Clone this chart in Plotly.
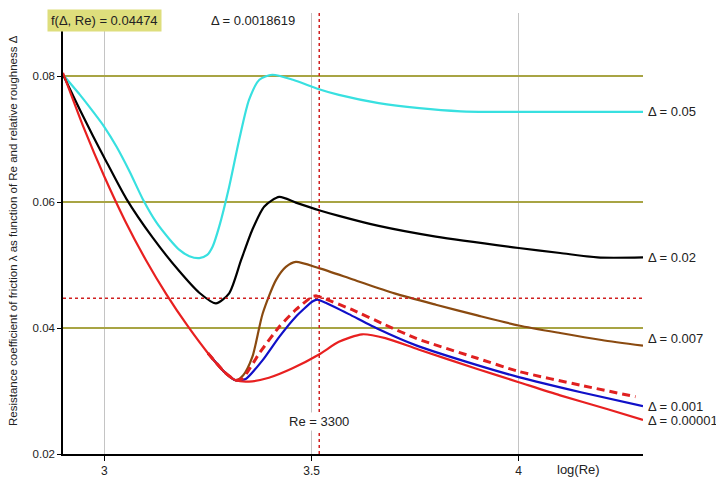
import math
import plotly.graph_objects as go

# ---- data (x = log10(Re), y = friction coefficient lambda) ----
laminar_x = [2.90, 2.95, 3.00, 3.05, 3.10, 3.15, 3.20, 3.25, 3.29, 3.317]
laminar_y = [0.0805, 0.0718, 0.0640, 0.0570, 0.0508, 0.0453, 0.0404, 0.0360, 0.0330, 0.0317]

cyan_x = [2.90, 2.941, 2.973, 3.00, 3.029, 3.061, 3.093, 3.125, 3.157, 3.181, 3.205, 3.229, 3.248, 3.261, 3.277, 3.301, 3.325, 3.349, 3.374, 3.405, 3.455, 3.518, 3.566, 3.662, 3.76, 3.86, 3.95, 4.10, 4.30]
cyan_y = [0.0802, 0.0770, 0.0743, 0.0719, 0.0688, 0.0648, 0.0604, 0.0568, 0.0541, 0.0524, 0.0514, 0.0511, 0.0516, 0.0529, 0.0561, 0.0624, 0.0698, 0.0762, 0.0794, 0.0802, 0.0794, 0.0779, 0.0770, 0.0757, 0.0749, 0.0744, 0.0743, 0.0743, 0.0743]

black_x = [2.90, 2.941, 2.973, 3.00, 3.053, 3.117, 3.181, 3.229, 3.269, 3.301, 3.330, 3.357, 3.386, 3.422, 3.462, 3.518, 3.566, 3.662, 3.80, 4.00, 4.10, 4.19, 4.30]
black_y = [0.0802, 0.0746, 0.0704, 0.0670, 0.0605, 0.0543, 0.0490, 0.0456, 0.0439, 0.0455, 0.0508, 0.0556, 0.0593, 0.0608, 0.0599, 0.0587, 0.0578, 0.0562, 0.0545, 0.0527, 0.0519, 0.0512, 0.0512]

brown_x = [3.335, 3.357, 3.382, 3.414, 3.438, 3.462, 3.518, 3.60, 3.70, 3.80, 3.90, 4.00, 4.10, 4.20, 4.30]
brown_y = [0.0325, 0.0354, 0.0423, 0.0476, 0.0497, 0.0505, 0.0495, 0.0477, 0.0455, 0.0437, 0.0420, 0.0404, 0.0392, 0.0381, 0.0372]

dashed_x = [3.334, 3.374, 3.422, 3.462, 3.502, 3.512, 3.534, 3.598, 3.678, 3.754, 3.90, 4.00, 4.15, 4.282]
dashed_y = [0.0320, 0.0360, 0.0402, 0.0429, 0.0450, 0.0451, 0.0446, 0.0429, 0.0405, 0.0383, 0.0352, 0.0331, 0.0309, 0.0291]

blue_x = [3.341, 3.382, 3.422, 3.462, 3.502, 3.514, 3.534, 3.59, 3.662, 3.754, 3.90, 4.00, 4.15, 4.30]
blue_y = [0.0319, 0.0349, 0.0386, 0.0418, 0.0442, 0.0445, 0.0440, 0.0422, 0.0398, 0.0372, 0.0341, 0.0322, 0.0298, 0.0276]

red_x = [3.349, 3.397, 3.454, 3.518, 3.566, 3.622, 3.678, 3.758, 3.90, 4.00, 4.10, 4.215, 4.30]
red_y = [0.0315, 0.0321, 0.0336, 0.0358, 0.0378, 0.0390, 0.0384, 0.0366, 0.0335, 0.0314, 0.0293, 0.0271, 0.0254]

deltas = ["0.05", "0.02", "0.007", "0.001", "0.00001"]
current_delta = "0.0018619"
f_value = 0.04474
re_value = 3300

x_ticks = [3, 3.5, 4]
x_tick_text = ["3", "3.5", "4"]
y_ticks = [0.02, 0.04, 0.06, 0.08]
y_tick_text = ["0.02", "0.04", "0.06", "0.08"]

FONT = "Liberation Sans, Arial, sans-serif"
TXT = "#222222"

fig = go.Figure()

def add_line(xs, ys, color, dash="solid", width=2.2, smooth=0.7):
    fig.add_trace(go.Scatter(x=xs, y=ys, mode="lines",
                             line=dict(color=color, width=width, dash=dash, shape="spline", smoothing=smooth),
                             hoverinfo="skip", showlegend=False))

add_line(cyan_x, cyan_y, "#38e0e0")
add_line(black_x, black_y, "#000000")
add_line(laminar_x[-3:] + brown_x, laminar_y[-3:] + brown_y, "#8a4a10")
add_line(laminar_x[-3:] + blue_x, laminar_y[-3:] + blue_y, "#1010c8", smooth=0.5)
add_line(laminar_x[-3:] + dashed_x, laminar_y[-3:] + dashed_y, "#e02020", dash="8px,5px", width=3, smooth=0.5)
add_line(laminar_x + red_x, laminar_y + red_y, "#e82020")

x_re = math.log10(re_value)
fig.add_shape(type="line", xref="paper", x0=0, x1=1, yref="y", y0=f_value, y1=f_value,
              line=dict(color="#d02020", width=1.5, dash="3px,3px"))
fig.add_shape(type="line", xref="x", x0=x_re, x1=x_re, yref="paper", y0=0, y1=1,
              line=dict(color="#d02020", width=1.5, dash="3px,3px"))

# right-side labels
ends = [(cyan_x[-1], cyan_y[-1], 0), (black_x[-1], black_y[-1], 0), (brown_x[-1], brown_y[-1], 7),
        (blue_x[-1], blue_y[-1], 0), (red_x[-1], red_y[-1], -1)]
for d, (ex, ey, ys) in zip(deltas, ends):
    fig.add_annotation(x=ex, y=ey, text="\u0394 = " + d, showarrow=False, xanchor="left",
                       xshift=3, yshift=ys, font=dict(family=FONT, size=13, color=TXT))

fig.add_annotation(xref="paper", yref="paper", x=-0.028, y=1.0, yanchor="middle", xanchor="left",
                   text="f(\u0394, Re) = " + str(f_value), showarrow=False, bgcolor="#dede7c",
                   borderpad=3, font=dict(family=FONT, size=13, color=TXT), yshift=-7)
fig.add_annotation(xref="paper", yref="paper", x=0.328, y=1.0, yanchor="middle", xanchor="center",
                   text="\u0394 = " + current_delta, showarrow=False,
                   font=dict(family=FONT, size=13, color=TXT), yshift=-7)
fig.add_annotation(xref="x", yref="paper", x=x_re, y=0.073, xanchor="center", yanchor="middle",
                   text="Re = " + str(re_value), showarrow=False, bgcolor="white",
                   font=dict(family=FONT, size=13, color=TXT))
fig.add_annotation(xref="paper", yref="paper", x=-0.086, y=0.506, textangle=-90,
                   xanchor="center", yanchor="middle",
                   text="Resistance coefficient of friction \u03bb as function of Re and relative roughness \u0394",
                   showarrow=False, font=dict(family=FONT, size=11.5, color=TXT))
fig.add_annotation(xref="paper", yref="paper", x=0.888, y=-0.036, xanchor="center", yanchor="middle",
                   text="log(Re)", showarrow=False, font=dict(family=FONT, size=13, color=TXT))

# the page body has an 8px margin, so the figure is sized/offset to compensate
fig.update_layout(
    width=716, height=475,
    margin=dict(l=55, r=81, t=5, b=29),
    paper_bgcolor="white", plot_bgcolor="white",
    xaxis=dict(range=[2.9, 4.3], tickvals=x_ticks, ticktext=x_tick_text, showgrid=True,
               gridcolor="#c4c4c4", gridwidth=1, zeroline=False, showline=True, linecolor="black",
               linewidth=2, ticks="outside", ticklen=5, tickcolor="black",
               tickfont=dict(family=FONT, size=12, color=TXT)),
    yaxis=dict(range=[0.02, 0.09], tickvals=y_ticks, ticktext=y_tick_text, showgrid=True,
               gridcolor="#a8a444", gridwidth=2, zeroline=False, showline=True, linecolor="black",
               linewidth=1.5, ticks="outside", ticklen=4, tickcolor="black",
               tickfont=dict(family=FONT, size=11.5, color=TXT)),
    font=dict(family=FONT),
)

fig.write_html("out.html")
